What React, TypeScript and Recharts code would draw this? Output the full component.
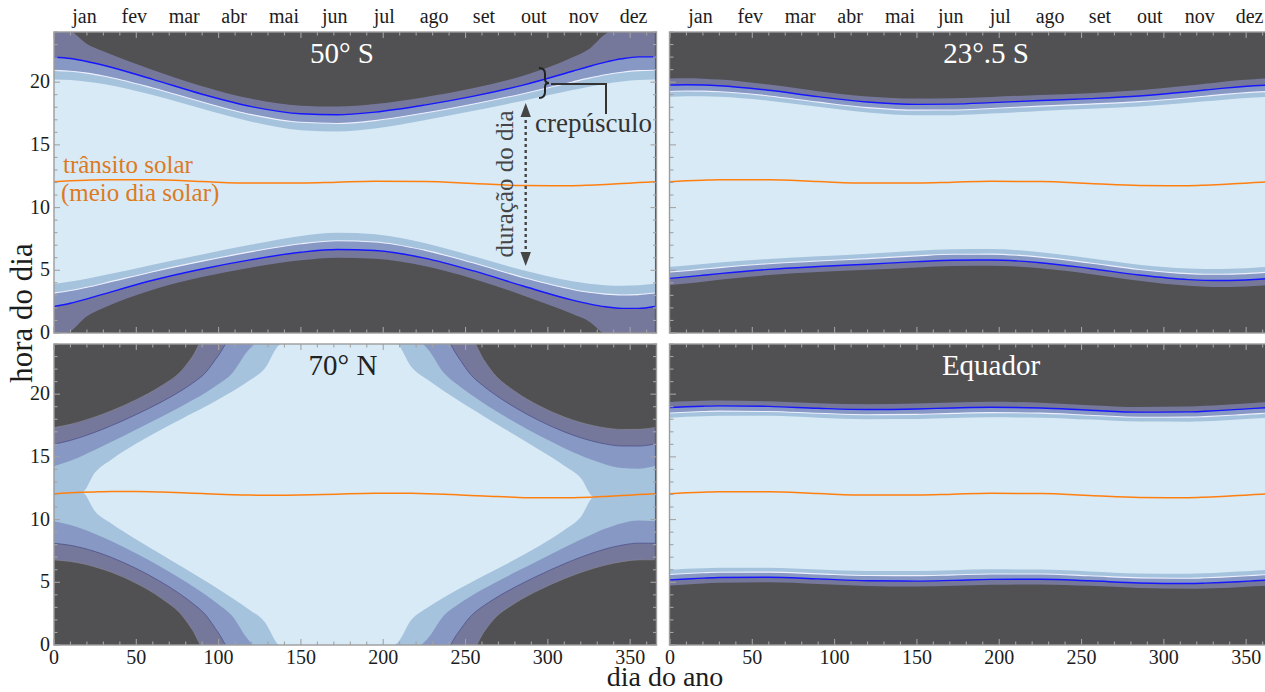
import React from "react";
import { ComposedChart, Area, Line, XAxis, YAxis, CartesianGrid } from "recharts";

// ---------- data (hours of solar time) ----------
// panels 50°S, 23.5°S, Equator share these sample days
const DAYS_A = [0, 10, 20, 30, 60, 90, 120, 150, 172, 195, 225, 255, 285, 315, 325, 335, 345, 355, 365];
const TRANSIT_A = [12.06, 12.13, 12.187, 12.225, 12.214, 12.072, 11.951, 11.959, 12.029, 12.094, 12.072, 11.918, 11.757, 11.745, 11.784, 11.842, 11.913, 11.991, 12.068];

// half-lengths (hours from solar noon) of: day, civil, nautical, astronomical limits
const S50_DAY = [8.145, 8.033, 7.855, 7.628, 6.763, 5.807, 4.897, 4.217, 4.035, 4.217, 4.897, 5.807, 6.763, 7.628, 7.855, 8.033, 8.145, 8.185, 8.145];
const S50_CIVIL = [8.881, 8.745, 8.536, 8.273, 7.325, 6.343, 5.463, 4.839, 4.677, 4.839, 5.463, 6.343, 7.325, 8.273, 8.536, 8.745, 8.881, 8.929, 8.881];
const S50_NAUT = [9.951, 9.754, 9.465, 9.125, 8.011, 6.968, 6.099, 5.517, 5.37, 5.517, 6.099, 6.968, 8.011, 9.125, 9.465, 9.754, 9.951, 10.025, 9.951];
const S50_ASTRO = [12.5, 12.0, 10.86, 10.237, 8.761, 7.607, 6.724, 6.165, 6.028, 6.165, 6.724, 7.607, 8.761, 10.237, 10.86, 12.0, 12.5, 12.5, 12.5];

const S23_DAY = [6.779, 6.743, 6.685, 6.609, 6.306, 5.959, 5.633, 5.402, 5.343, 5.402, 5.633, 5.959, 6.306, 6.609, 6.685, 6.743, 6.779, 6.792, 6.779];
const S23_CIVIL = [7.201, 7.161, 7.097, 7.013, 6.689, 6.335, 6.02, 5.808, 5.754, 5.808, 6.02, 6.335, 6.689, 7.013, 7.097, 7.161, 7.201, 7.215, 7.201];
const S23_NAUT = [7.706, 7.659, 7.586, 7.491, 7.137, 6.771, 6.466, 6.271, 6.224, 6.271, 6.466, 6.771, 7.137, 7.491, 7.586, 7.659, 7.706, 7.722, 7.706];
const S23_ASTRO = [8.232, 8.178, 8.093, 7.985, 7.591, 7.207, 6.908, 6.729, 6.687, 6.729, 6.908, 7.207, 7.591, 7.985, 8.093, 8.178, 8.232, 8.251, 8.232];

const EQ_DAY = [6.06, 6.06, 6.059, 6.058, 6.056, 6.056, 6.057, 6.06, 6.061, 6.06, 6.057, 6.056, 6.056, 6.058, 6.059, 6.06, 6.06, 6.061, 6.06];
const EQ_CIVIL = [6.435, 6.432, 6.427, 6.421, 6.404, 6.401, 6.413, 6.431, 6.436, 6.431, 6.413, 6.401, 6.404, 6.421, 6.427, 6.432, 6.435, 6.436, 6.435];
const EQ_NAUT = [6.871, 6.864, 6.854, 6.842, 6.809, 6.801, 6.827, 6.862, 6.873, 6.862, 6.827, 6.801, 6.809, 6.842, 6.854, 6.864, 6.871, 6.873, 6.871];
const EQ_ASTRO = [7.309, 7.298, 7.283, 7.265, 7.213, 7.202, 7.241, 7.295, 7.312, 7.295, 7.241, 7.202, 7.213, 7.265, 7.283, 7.298, 7.309, 7.312, 7.309];

// 70°N panel sample days
const DAYS_B = [0, 10, 17, 25, 35, 50, 65, 78, 84, 92, 100, 108, 118, 128, 137, 150, 172, 195, 208, 217, 227, 237, 245, 253, 261, 267, 280, 295, 310, 320, 328, 335, 345, 355, 365];
const TRANSIT_B = [12.06, 12.13, 12.172, 12.208, 12.236, 12.238, 12.196, 12.136, 12.104, 12.062, 12.022, 11.987, 11.956, 11.939, 11.939, 11.959, 12.029, 12.094, 12.103, 12.093, 12.065, 12.021, 11.978, 11.93, 11.881, 11.845, 11.777, 11.731, 11.733, 11.762, 11.8, 11.842, 11.913, 11.991, 12.068];
const N70_DAY = [0, 0, 0, 1.56, 2.564, 3.819, 4.961, 5.923, 6.366, 6.964, 7.577, 8.215, 9.08, 10.103, 12.0, 12.5, 12.5, 12.5, 12.0, 10.103, 9.08, 8.215, 7.577, 6.964, 6.366, 5.923, 4.961, 3.819, 2.564, 1.56, 0, 0, 0, 0, 0];
const N70_CIVIL = [2.198, 2.56, 2.904, 3.353, 3.963, 4.95, 5.985, 6.937, 7.402, 8.06, 8.787, 9.643, 11.537, 12.5, 12.5, 12.5, 12.5, 12.5, 12.5, 12.5, 11.537, 9.643, 8.787, 8.06, 7.402, 6.937, 5.985, 4.95, 3.963, 3.353, 2.904, 2.56, 2.198, 2.061, 2.198];
const N70_NAUT = [3.954, 4.185, 4.424, 4.761, 5.26, 6.143, 7.165, 8.203, 8.759, 9.651, 11.083, 12.5, 12.5, 12.5, 12.5, 12.5, 12.5, 12.5, 12.5, 12.5, 12.5, 12.5, 11.083, 9.651, 8.759, 8.203, 7.165, 6.143, 5.26, 4.761, 4.424, 4.185, 3.954, 3.873, 3.954];
const N70_ASTRO = [5.273, 5.469, 5.677, 5.979, 6.445, 7.324, 8.447, 9.815, 10.875, 12.5, 12.5, 12.5, 12.5, 12.5, 12.5, 12.5, 12.5, 12.5, 12.5, 12.5, 12.5, 12.5, 12.5, 12.5, 10.875, 9.815, 8.447, 7.324, 6.445, 5.979, 5.677, 5.469, 5.273, 5.206, 5.273];

const X_TICKS = [0, 10, 20, 30, 40, 50, 60, 70, 80, 90, 100, 110, 120, 130, 140, 150, 160, 170, 180, 190, 200, 210, 220, 230, 240, 250, 260, 270, 280, 290, 300, 310, 320, 330, 340, 350, 360];
const Y_TICKS = [0, 1, 2, 3, 4, 5, 6, 7, 8, 9, 10, 11, 12, 13, 14, 15, 16, 17, 18, 19, 20, 21, 22, 23, 24];
const MONTHS = ["jan", "fev", "mar", "abr", "mai", "jun", "jul", "ago", "set", "out", "nov", "dez"];
const MONTH_POS = [18.5, 48.8, 79.1, 109.4, 139.7, 170.5, 200.6, 230.9, 261.2, 291.5, 321.8, 352.1];

// ---------- style ----------
const FONT = "Liberation Serif";
const INK = "#1c1c1c";
const NIGHT = "#515153";
const C_ASTRO = "#76789b";
const C_NAUT = "#8798c4";
const C_CIVIL = "#a6c3dd";
const C_DAY = "#d8eaf6";
const TICK_C = "#a3a3a3";
const PW = 602.5;
const PH = 301;

function buildRows(days: number[], noon: number[], dl: number[], cv: number[], nt: number[], as: number[]) {
  return days.map((d, i) => ({
    d,
    noon: noon[i],
    astro: [noon[i] - as[i], noon[i] + as[i]],
    naut: [noon[i] - nt[i], noon[i] + nt[i]],
    civil: [noon[i] - cv[i], noon[i] + cv[i]],
    day: [noon[i] - dl[i], noon[i] + dl[i]],
    nautLo: noon[i] - nt[i],
    nautHi: noon[i] + nt[i],
    civLo: noon[i] - cv[i],
    civHi: noon[i] + cv[i],
  }));
}

const ROWS_50S = buildRows(DAYS_A, TRANSIT_A, S50_DAY, S50_CIVIL, S50_NAUT, S50_ASTRO);
const ROWS_23S = buildRows(DAYS_A, TRANSIT_A, S23_DAY, S23_CIVIL, S23_NAUT, S23_ASTRO);
const ROWS_EQ = buildRows(DAYS_A, TRANSIT_A, EQ_DAY, EQ_CIVIL, EQ_NAUT, EQ_ASTRO);
const ROWS_70N = buildRows(DAYS_B, TRANSIT_B, N70_DAY, N70_CIVIL, N70_NAUT, N70_ASTRO);

function xTick(showNums: boolean, showMonths: boolean) {
  return function XT(p: any) {
    const x = p.x;
    const y = p.y;
    const v = p.payload.value;
    if (Math.abs(v % 10) < 1e-9) {
      const major = v % 50 === 0;
      const len = major ? 6 : 3.5;
      return (
        <g>
          <line x1={x} x2={x} y1={y} y2={y - len} stroke={TICK_C} strokeWidth={1.1} />
          <line x1={x} x2={x} y1={y - PH} y2={y - PH + len} stroke={TICK_C} strokeWidth={1.1} />
          {showNums && major ? (
            <text x={x} y={y + 19} textAnchor="middle" fontSize={20} fill={INK} fontFamily={FONT}>
              {v}
            </text>
          ) : null}
        </g>
      );
    }
    const i = MONTH_POS.indexOf(v);
    if (!showMonths || i < 0) return <g />;
    return (
      <text x={x} y={y - PH - 9} textAnchor="middle" fontSize={20} fill={INK} fontFamily={FONT}>
        {MONTHS[i]}
      </text>
    );
  };
}

function yTick(showNums: boolean) {
  return function YT(p: any) {
    const x = p.x;
    const y = p.y;
    const v = p.payload.value;
    const major = v % 5 === 0;
    const len = major ? 6 : 3.5;
    return (
      <g>
        <line x1={x} x2={x + len} y1={y} y2={y} stroke={TICK_C} strokeWidth={1.1} />
        <line x1={x + PW} x2={x + PW - len} y1={y} y2={y} stroke={TICK_C} strokeWidth={1.1} />
        {showNums && major ? (
          <text x={x - 4} y={y + 6} textAnchor="end" fontSize={20} fill={INK} fontFamily={FONT}>
            {v}
          </text>
        ) : null}
      </g>
    );
  };
}

type PanelProps = {
  left: number;
  top: number;
  rows: any[];
  showX: boolean;
  showY: boolean;
  showMonths: boolean;
  lines: boolean;
};

function Panel({ left, top, rows, showX, showY, showMonths, lines }: PanelProps) {
  const ML = 60, MT = 40, MR = 10, MB = 40;
  return (
    <div style={{ position: "absolute", left: left - ML, top: top - MT }}>
      <ComposedChart
        width={ML + PW + MR}
        height={MT + PH + MB}
        data={rows}
        margin={{ left: ML - 1, top: MT, right: MR, bottom: MB - 1 }}
      >
        <CartesianGrid fill={NIGHT} horizontal={false} vertical={false} stroke="none" />
        <Area
          dataKey="astro"
          type="monotone"
          fill={C_ASTRO}
          fillOpacity={1}
          stroke={lines ? "none" : "#8a8a96"}
          strokeWidth={0.6}
          isAnimationActive={false}
          dot={false}
          activeDot={false}
        />
        <Area
          dataKey="naut"
          type="monotone"
          fill={C_NAUT}
          fillOpacity={1}
          stroke={lines ? "none" : "#464b84"}
          strokeWidth={0.7}
          isAnimationActive={false}
          dot={false}
          activeDot={false}
        />
        <Area dataKey="civil" type="monotone" fill={C_CIVIL} fillOpacity={1} stroke="none" isAnimationActive={false} dot={false} activeDot={false} />
        <Area dataKey="day" type="monotone" fill={C_DAY} fillOpacity={1} stroke="none" isAnimationActive={false} dot={false} activeDot={false} />
        {lines ? <Line dataKey="civLo" type="monotone" stroke="#eef0ff" strokeWidth={1.1} dot={false} activeDot={false} isAnimationActive={false} /> : null}
        {lines ? <Line dataKey="civHi" type="monotone" stroke="#eef0ff" strokeWidth={1.1} dot={false} activeDot={false} isAnimationActive={false} /> : null}
        {lines ? <Line dataKey="nautLo" type="monotone" stroke="#1616ff" strokeWidth={1.4} dot={false} activeDot={false} isAnimationActive={false} /> : null}
        {lines ? <Line dataKey="nautHi" type="monotone" stroke="#1616ff" strokeWidth={1.4} dot={false} activeDot={false} isAnimationActive={false} /> : null}
        <Line dataKey="noon" type="monotone" stroke="#ff7f0f" strokeWidth={1.5} dot={false} activeDot={false} isAnimationActive={false} />
        <XAxis
          dataKey="d"
          type="number"
          domain={[0, 366]}
          allowDataOverflow
          ticks={[...X_TICKS, ...MONTH_POS]}
          interval={0}
          tickSize={0}
          tickMargin={0}
          axisLine={false}
          tickLine={false}
          height={1}
          tick={xTick(showX, showMonths)}
        />
        <YAxis
          type="number"
          domain={[0, 24]}
          allowDataOverflow
          ticks={Y_TICKS}
          interval={0}
          tickSize={0}
          tickMargin={0}
          axisLine={false}
          tickLine={false}
          width={1}
          tick={yTick(showY)}
        />
      </ComposedChart>
    </div>
  );
}

const PANELS = [
  { left: 54, top: 32 },
  { left: 669.5, top: 32 },
  { left: 54, top: 344 },
  { left: 669.5, top: 344 },
];

export default function App() {
  return (
    <div
      style={{
        position: "absolute",
        left: 0,
        top: 0,
        width: 1265,
        height: 692,
        overflow: "hidden",
        background: "#ffffff",
        fontFamily: FONT,
      }}
    >
      <Panel left={54} top={32} rows={ROWS_50S} showX={false} showY={true} showMonths={true} lines={true} />
      <Panel left={669.5} top={32} rows={ROWS_23S} showX={false} showY={false} showMonths={true} lines={true} />
      <Panel left={54} top={344} rows={ROWS_70N} showX={true} showY={true} showMonths={false} lines={false} />
      <Panel left={669.5} top={344} rows={ROWS_EQ} showX={true} showY={false} showMonths={false} lines={true} />
      <svg
        width={1265}
        height={692}
        style={{ position: "absolute", left: 0, top: 0, pointerEvents: "none" }}
        fontFamily={FONT}
      >
        {PANELS.map((p, i) => (
          <rect key={i} x={p.left} y={p.top} width={PW} height={PH} fill="none" stroke="#9c9c9c" strokeWidth={1.4} />
        ))}
        <text x={342} y={63} textAnchor="middle" fontSize={29} fill="#ffffff">50° S</text>
        <text x={986} y={63} textAnchor="middle" fontSize={29} fill="#ffffff">23°.5 S</text>
        <text x={343} y={375} textAnchor="middle" fontSize={29} fill="#222222">70° N</text>
        <text x={991} y={375} textAnchor="middle" fontSize={29} fill="#ffffff">Equador</text>

        <text x={63} y={173} fontSize={25} fill="#dd7a1f">trânsito solar</text>
        <text x={61} y={201} fontSize={25} fill="#dd7a1f">(meio dia solar)</text>

        <text transform="translate(513,184) rotate(-90)" textAnchor="middle" fontSize={25} fill="#454545">duração do dia</text>
        <line x1={525.7} x2={525.7} y1={114} y2={255} stroke="#454545" strokeWidth={2.4} strokeDasharray="3 3" />
        <polygon points="525.7,103 520.5,117 530.9,117" fill="#454545" />
        <polygon points="525.7,266 520.5,252 530.9,252" fill="#454545" />

        <path d="M539,68 Q545,68 545,74 L545,79 Q545,83 549,83 Q545,83 545,87 L545,92 Q545,98 539,98" fill="none" stroke="#222222" strokeWidth={2} />
        <polyline points="551,84 606,84 606,114" fill="none" stroke="#333333" strokeWidth={2} />
        <text x={535} y={132} fontSize={27} fill="#333333">crepúsculo</text>

        <text x={665} y={686} textAnchor="middle" fontSize={28} fill={INK}>dia do ano</text>
        <text transform="translate(32,313) rotate(-90)" textAnchor="middle" fontSize={31} fill={INK}>hora do dia</text>
      </svg>
    </div>
  );
}
